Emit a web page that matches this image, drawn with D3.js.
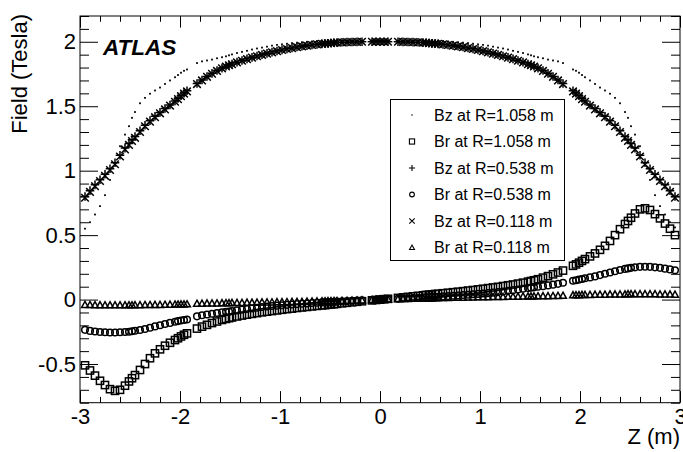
<!DOCTYPE html>
<html>
<head>
<meta charset="utf-8">
<script src="https://cdn.jsdelivr.net/npm/d3@7"></script>
<style>
  html, body { margin: 0; padding: 0; background: #fff; }
  svg { display: block; font-family: "Liberation Sans", Arial, Helvetica, sans-serif; }
</style>
</head>
<body>
<script>
// ---------- DATA ----------
const zValues = [
  -2.95,-2.90,-2.85,-2.80,-2.75,-2.70,-2.65,-2.60,-2.55,-2.51,-2.48,-2.45,-2.40,-2.35,-2.30,-2.25,-2.20,-2.15,-2.10,-2.05,-2.02,-1.99,-1.96,-1.93,
  -1.83,-1.78,-1.73,-1.68,-1.63,-1.58,-1.54,-1.51,-1.48,-1.43,-1.38,-1.33,-1.28,-1.23,-1.18,-1.13,-1.08,-1.03,-0.98,-0.93,-0.88,-0.83,-0.78,-0.73,-0.68,-0.63,-0.58,-0.55,-0.52,-0.49,-0.46,-0.43,-0.38,-0.33,-0.28,-0.23,-0.18,
  -0.08,-0.04,0,0.04,0.08,
  0.18,0.23,0.28,0.33,0.38,0.43,0.46,0.49,0.52,0.55,0.58,0.63,0.68,0.73,0.78,0.83,0.88,0.93,0.98,1.03,1.08,1.13,1.18,1.23,1.28,1.33,1.38,1.43,1.48,1.51,1.54,1.58,1.63,1.68,1.73,1.78,1.83,
  1.93,1.96,1.99,2.02,2.05,2.10,2.15,2.20,2.25,2.30,2.35,2.40,2.45,2.48,2.51,2.55,2.60,2.65,2.70,2.75,2.80,2.85,2.90,2.95
];

const bzR1058 = [
  0.55,0.60,0.66,0.725,0.81,0.928,1.06,1.19,1.28,1.345,1.41,1.455,1.523,1.565,1.597,1.622,1.645,1.673,1.70,1.725,1.742,1.76,1.775,1.785,
  1.835,1.848,1.855,1.862,1.872,1.88,1.887,1.895,1.902,1.913,1.922,1.93,1.94,1.948,1.955,1.962,1.97,1.976,1.98,1.985,1.99,1.993,1.997,2.0,2.002,2.004,2.005,2.006,2.006,2.007,2.007,2.008,2.008,2.008,2.008,2.008,2.008,
  2.008,2.008,2.008,2.008,2.008,
  2.008,2.008,2.008,2.008,2.008,2.008,2.007,2.007,2.006,2.006,2.005,2.004,2.002,2.0,1.997,1.993,1.99,1.985,1.98,1.976,1.97,1.962,1.955,1.948,1.94,1.93,1.922,1.913,1.902,1.895,1.887,1.88,1.872,1.862,1.855,1.848,1.835,
  1.785,1.775,1.76,1.742,1.725,1.70,1.673,1.645,1.622,1.597,1.565,1.523,1.455,1.41,1.345,1.28,1.19,1.06,0.928,0.81,0.725,0.66,0.60,0.56
];

const brR1058 = [
  -0.51,-0.55,-0.59,-0.63,-0.663,-0.695,-0.708,-0.70,-0.668,-0.635,-0.61,-0.586,-0.546,-0.50,-0.455,-0.417,-0.386,-0.358,-0.335,-0.314,-0.30,-0.286,-0.273,-0.262,
  -0.225,-0.21,-0.196,-0.182,-0.17,-0.158,-0.15,-0.144,-0.139,-0.131,-0.124,-0.117,-0.111,-0.105,-0.099,-0.094,-0.089,-0.084,-0.079,-0.074,-0.07,-0.065,-0.061,-0.057,-0.053,-0.049,-0.045,-0.043,-0.04,-0.038,-0.036,-0.033,-0.029,-0.025,-0.021,-0.017,-0.013,
  -0.006,-0.003,0,0.003,0.006,
  0.013,0.017,0.021,0.025,0.029,0.033,0.036,0.038,0.04,0.043,0.045,0.049,0.053,0.057,0.061,0.065,0.07,0.074,0.079,0.084,0.089,0.094,0.099,0.105,0.111,0.117,0.124,0.131,0.139,0.144,0.15,0.158,0.17,0.182,0.196,0.21,0.225,
  0.262,0.273,0.286,0.30,0.314,0.335,0.358,0.386,0.417,0.455,0.50,0.546,0.586,0.61,0.635,0.668,0.70,0.708,0.695,0.663,0.63,0.59,0.55,0.50
];

const bzR0538 = [
  0.80,0.845,0.89,0.93,0.972,1.015,1.062,1.12,1.175,1.21,1.24,1.265,1.31,1.352,1.388,1.422,1.452,1.482,1.51,1.54,1.56,1.582,1.602,1.62,
  1.676,1.704,1.731,1.755,1.777,1.796,1.81,1.82,1.828,1.842,1.855,1.867,1.879,1.89,1.9,1.91,1.92,1.929,1.937,1.945,1.952,1.959,1.965,1.97,1.975,1.98,1.984,1.986,1.988,1.99,1.992,1.994,1.996,1.997,1.998,1.999,2.0,
  2.0,2.0,2.0,2.0,2.0,
  2.0,1.999,1.998,1.997,1.996,1.994,1.992,1.99,1.988,1.986,1.984,1.98,1.975,1.97,1.965,1.959,1.952,1.945,1.937,1.929,1.92,1.91,1.9,1.89,1.879,1.867,1.855,1.842,1.828,1.82,1.81,1.796,1.777,1.755,1.731,1.704,1.676,
  1.62,1.602,1.582,1.56,1.54,1.51,1.482,1.452,1.422,1.388,1.352,1.31,1.265,1.24,1.21,1.175,1.12,1.062,1.015,0.972,0.93,0.89,0.845,0.80
];

const brR0538 = [
  -0.235,-0.243,-0.248,-0.252,-0.254,-0.255,-0.255,-0.254,-0.252,-0.249,-0.246,-0.242,-0.236,-0.228,-0.218,-0.208,-0.199,-0.19,-0.181,-0.172,-0.167,-0.162,-0.158,-0.154,
  -0.13,-0.122,-0.116,-0.11,-0.104,-0.099,-0.095,-0.092,-0.089,-0.084,-0.078,-0.073,-0.068,-0.063,-0.058,-0.054,-0.05,-0.047,-0.044,-0.041,-0.038,-0.035,-0.032,-0.03,-0.027,-0.025,-0.022,-0.021,-0.02,-0.018,-0.017,-0.016,-0.014,-0.012,-0.01,-0.008,-0.006,
  -0.003,-0.001,0,0.001,0.003,
  0.006,0.008,0.01,0.012,0.014,0.016,0.017,0.018,0.02,0.021,0.022,0.025,0.027,0.03,0.032,0.035,0.038,0.041,0.044,0.047,0.05,0.054,0.058,0.063,0.068,0.073,0.078,0.084,0.089,0.092,0.095,0.099,0.104,0.11,0.116,0.122,0.13,
  0.146,0.15,0.155,0.16,0.165,0.172,0.18,0.19,0.2,0.21,0.22,0.23,0.238,0.242,0.246,0.25,0.254,0.255,0.254,0.25,0.246,0.24,0.234,0.228
];

const bzR0118 = [
  0.79,0.835,0.88,0.92,0.96,1.005,1.05,1.11,1.165,1.20,1.23,1.255,1.30,1.345,1.38,1.415,1.445,1.475,1.505,1.535,1.555,1.578,1.598,1.615,
  1.672,1.70,1.728,1.752,1.774,1.794,1.808,1.818,1.826,1.84,1.853,1.865,1.877,1.888,1.898,1.908,1.918,1.927,1.936,1.944,1.951,1.958,1.964,1.97,1.975,1.98,1.984,1.986,1.988,1.99,1.992,1.994,1.996,1.997,1.998,1.999,2.0,
  2.0,2.0,2.0,2.0,2.0,
  2.0,1.999,1.998,1.997,1.996,1.994,1.992,1.99,1.988,1.986,1.984,1.98,1.975,1.97,1.964,1.958,1.951,1.944,1.936,1.927,1.918,1.908,1.898,1.888,1.877,1.865,1.853,1.84,1.826,1.818,1.808,1.794,1.774,1.752,1.728,1.70,1.672,
  1.615,1.598,1.578,1.555,1.535,1.505,1.475,1.445,1.415,1.38,1.345,1.30,1.255,1.23,1.20,1.165,1.11,1.05,1.005,0.96,0.92,0.88,0.835,0.79
];

const brR0118 = [
  -0.04,-0.041,-0.042,-0.042,-0.043,-0.043,-0.043,-0.043,-0.043,-0.043,-0.043,-0.042,-0.042,-0.041,-0.041,-0.04,-0.04,-0.039,-0.038,-0.037,-0.037,-0.036,-0.036,-0.035,
  -0.031,-0.030,-0.029,-0.028,-0.028,-0.027,-0.026,-0.026,-0.025,-0.025,-0.024,-0.023,-0.023,-0.022,-0.021,-0.021,-0.02,-0.019,-0.019,-0.018,-0.017,-0.016,-0.016,-0.015,-0.014,-0.013,-0.012,-0.012,-0.011,-0.011,-0.01,-0.01,-0.009,-0.008,-0.007,-0.006,-0.005,
  -0.002,-0.001,0,0.001,0.002,
  0.005,0.006,0.007,0.008,0.009,0.01,0.01,0.011,0.011,0.012,0.012,0.013,0.014,0.015,0.016,0.016,0.017,0.018,0.019,0.019,0.02,0.021,0.021,0.022,0.023,0.023,0.024,0.025,0.025,0.026,0.026,0.027,0.028,0.028,0.029,0.03,0.031,
  0.035,0.036,0.036,0.037,0.037,0.038,0.039,0.04,0.04,0.041,0.041,0.042,0.042,0.043,0.043,0.043,0.043,0.043,0.043,0.043,0.042,0.042,0.041,0.04
];

const seriesNames = ["Bz at R=1.058 m","Br at R=1.058 m","Bz at R=0.538 m","Br at R=0.538 m","Bz at R=0.118 m","Br at R=0.118 m"];
const seriesMarkers = ["dot","square","plus","circle","cross","triangle"];
const seriesValues = [bzR1058, brR1058, bzR0538, brR0538, bzR0118, brR0118];

const xMajorTicks = [-3,-2,-1,0,1,2,3];
const yMajorTicks = [-0.5,0,0.5,1,1.5,2];
const xTitle = "Z (m)";
const yTitle = "Field (Tesla)";
const labelText = "ATLAS";

// ---------- LAYOUT ----------
const W = 683, H = 452;
const L = 80, R = 680, T = 16, B = 402.7;

const svg = d3.select("body").append("svg").attr("width", W).attr("height", H);
svg.append("rect").attr("width", W).attr("height", H).attr("fill", "#fff");

const x = d3.scaleLinear().domain([-3, 3]).range([L, R]);
const y = d3.scaleLinear().domain([-0.8, 2.2]).range([B, T]);

const xMinor = x.ticks(30).filter(v => !xMajorTicks.some(m => Math.abs(m - v) < 1e-6));
const yMinor = y.ticks(30).filter(v => !yMajorTicks.some(m => Math.abs(m - v) < 1e-6));
const fmt = d => String(d);

const xMajLen = 11.6, xMinLen = 5.8, yMajLen = 18, yMinLen = 9;

function styleAxis(g) {
  g.select(".domain").remove();
  g.selectAll("line").attr("stroke", "#000").attr("stroke-width", 1);
  g.selectAll("text").attr("fill", "#000").attr("font-size", 22).attr("font-family", "Liberation Sans, Arial, sans-serif");
}

// bottom
svg.append("g").attr("transform", `translate(0,${B})`)
  .call(d3.axisBottom(x).tickValues(xMajorTicks).tickSize(-xMajLen).tickPadding(6).tickFormat(fmt)).call(styleAxis);
svg.append("g").attr("transform", `translate(0,${B})`)
  .call(d3.axisBottom(x).tickValues(xMinor).tickSize(-xMinLen).tickFormat("")).call(styleAxis);
// top
svg.append("g").attr("transform", `translate(0,${T})`)
  .call(d3.axisTop(x).tickValues(xMajorTicks).tickSize(-xMajLen).tickFormat("")).call(styleAxis);
svg.append("g").attr("transform", `translate(0,${T})`)
  .call(d3.axisTop(x).tickValues(xMinor).tickSize(-xMinLen).tickFormat("")).call(styleAxis);
// left
svg.append("g").attr("transform", `translate(${L},0)`)
  .call(d3.axisLeft(y).tickValues(yMajorTicks).tickSize(-yMajLen).tickPadding(4).tickFormat(fmt)).call(styleAxis);
svg.append("g").attr("transform", `translate(${L},0)`)
  .call(d3.axisLeft(y).tickValues(yMinor).tickSize(-yMinLen).tickFormat("")).call(styleAxis);
// right
svg.append("g").attr("transform", `translate(${R},0)`)
  .call(d3.axisRight(y).tickValues(yMajorTicks).tickSize(-yMajLen).tickFormat("")).call(styleAxis);
svg.append("g").attr("transform", `translate(${R},0)`)
  .call(d3.axisRight(y).tickValues(yMinor).tickSize(-yMinLen).tickFormat("")).call(styleAxis);

// frame
svg.append("rect").attr("x", L).attr("y", T).attr("width", R - L).attr("height", B - T)
  .attr("fill", "none").attr("stroke", "#000").attr("stroke-width", 1);

// titles
svg.append("text").attr("x", R).attr("y", 444).attr("text-anchor", "end")
  .attr("font-size", 22).attr("fill", "#000").text(xTitle);
svg.append("text").attr("transform", "translate(27,14) rotate(-90)").attr("text-anchor", "end")
  .attr("font-size", 22).attr("fill", "#000").text(yTitle);
svg.append("text").attr("x", 103).attr("y", 55).attr("font-size", 22.5).attr("font-weight", "bold")
  .attr("font-style", "italic").attr("fill", "#000").text(labelText);

// ---------- MARKERS ----------
function drawMarker(g, type, cx, cy, s, sw) {
  let el;
  if (type === "dot") {
    g.append("rect").attr("x", cx - 0.9 * s).attr("y", cy - 0.9 * s).attr("width", 1.8 * s).attr("height", 1.8 * s).attr("fill", "#000");
    return;
  } else if (type === "square") {
    const h = 3.6 * s;
    el = g.append("rect").attr("x", cx - h).attr("y", cy - h).attr("width", 2 * h).attr("height", 2 * h);
  } else if (type === "circle") {
    el = g.append("circle").attr("cx", cx).attr("cy", cy).attr("r", 3.3 * s);
  } else if (type === "plus") {
    const h = 4.3 * s;
    el = g.append("path").attr("d", `M${cx - h},${cy}H${cx + h}M${cx},${cy - h}V${cy + h}`);
  } else if (type === "cross") {
    const h = 3.8 * s;
    el = g.append("path").attr("d", `M${cx - h},${cy - h}L${cx + h},${cy + h}M${cx - h},${cy + h}L${cx + h},${cy - h}`);
  } else if (type === "triangle") {
    const h = 3.4 * s;
    el = g.append("path").attr("d", `M${cx},${cy - h}L${cx + h},${cy + h * 0.8}L${cx - h},${cy + h * 0.8}Z`);
  }
  el.attr("stroke", "#000").attr("stroke-width", sw).attr("fill", "none");
}

const plotG = svg.append("g");
seriesValues.forEach((vals, si) => {
  const g = plotG.append("g");
  vals.forEach((v, i) => drawMarker(g, seriesMarkers[si], x(zValues[i]), y(v), 1, 1.5));
});

// ---------- LEGEND ----------
const lg = svg.append("g");
lg.append("rect").attr("x", 390.5).attr("y", 99.5).attr("width", 174).attr("height", 161)
  .attr("fill", "#fff").attr("stroke", "#000").attr("stroke-width", 1);
seriesNames.forEach((name, i) => {
  const cy = 115 + i * 26.5;
  drawMarker(lg, seriesMarkers[i], 412, cy, 0.72, 1.1);
  lg.append("text").attr("x", 434).attr("y", cy).attr("dy", "0.35em").attr("font-size", 16)
    .attr("fill", "#000").text(name);
});
</script>
</body>
</html>
